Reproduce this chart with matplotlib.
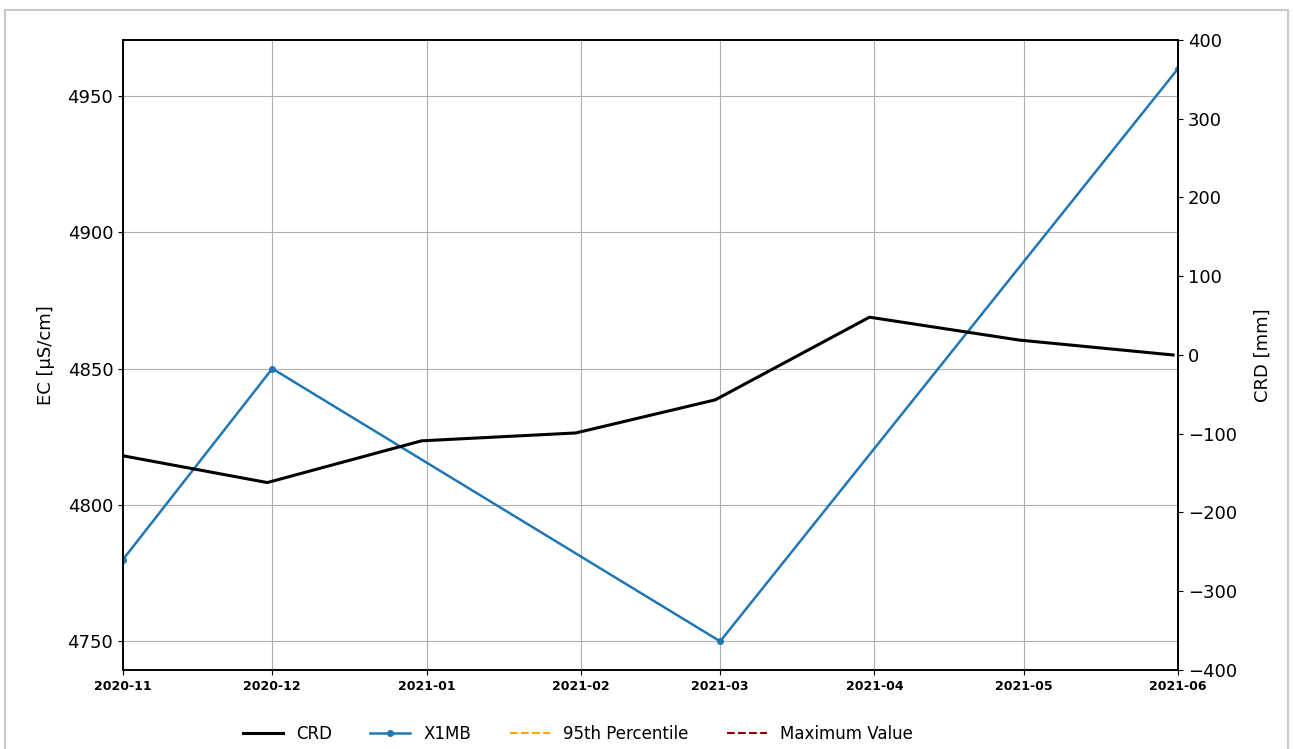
import pandas as pd
import matplotlib
matplotlib.use('Agg')
import matplotlib.pyplot as plt
import matplotlib.dates as mdates
from matplotlib.patches import Rectangle

# EC readings for well X1MB
x1mb_dates = pd.to_datetime(['2020-11-01', '2020-12-01', '2021-03-01', '2021-06-01'])
x1mb_ec = [4780, 4850, 4750, 4960]

# Cumulative rainfall departure (month-end values)
crd_dates = pd.to_datetime(['2020-11-01', '2020-11-30', '2020-12-31', '2021-01-31',
                            '2021-02-28', '2021-03-31', '2021-04-30', '2021-05-31'])
crd_mm = [-128, -162, -109, -99, -57, 48, 19, 0]

# Threshold series (no values inside the plotted window)
p95_values = []
max_values = []

fig, ax1 = plt.subplots(figsize=(12.93, 7.49), dpi=100)
fig.subplots_adjust(left=0.0951, right=0.9111, top=0.9466, bottom=0.1055)

# light frame round the whole figure
fig.add_artist(Rectangle((5 / 1293, -0.02), 1283 / 1293, 1.02 - 10 / 749,
                         transform=fig.transFigure, fill=False,
                         edgecolor='#c8c8c8', linewidth=1.5))

ax2 = ax1.twinx()

l_crd, = ax2.plot(crd_dates, crd_mm, color='black', linewidth=2.2, label='CRD')
l_x1, = ax1.plot(x1mb_dates, x1mb_ec, color='#1f77b4', linewidth=1.8,
                 marker='o', markersize=4, label='X1MB')
l_p95, = ax1.plot(p95_values, p95_values, color='orange', linestyle='--',
                  linewidth=1.5, label='95th Percentile')
l_max, = ax1.plot(max_values, max_values, color='darkred', linestyle='--',
                  linewidth=1.5, label='Maximum Value')

ax1.set_xlim(pd.Timestamp('2020-11-01'), pd.Timestamp('2021-06-01'))
ax2.set_ylim(-400, 400)

ax1.xaxis.set_major_locator(mdates.MonthLocator())
ax1.xaxis.set_major_formatter(mdates.DateFormatter('%Y-%m'))
for lab in ax1.get_xticklabels():
    lab.set_fontsize(9)
    lab.set_fontweight('bold')

ax1.tick_params(axis='y', labelsize=13)
ax2.tick_params(axis='y', labelsize=13)
ax1.set_ylabel('EC [µS/cm]', fontsize=13, labelpad=9)
ax2.set_ylabel('CRD [mm]', fontsize=13, labelpad=12)

for ax in (ax1, ax2):
    for sp in ax.spines.values():
        sp.set_linewidth(1.2)

ax1.grid(True, color='#b0b0b0', linewidth=0.8)

fig.legend(handles=[l_crd, l_x1, l_p95, l_max], loc='lower center',
           bbox_to_anchor=(0.447, -0.012), ncol=4, frameon=False, fontsize=12,
           handlelength=2.4, columnspacing=2.3)

fig.savefig('out.png', dpi=100)
